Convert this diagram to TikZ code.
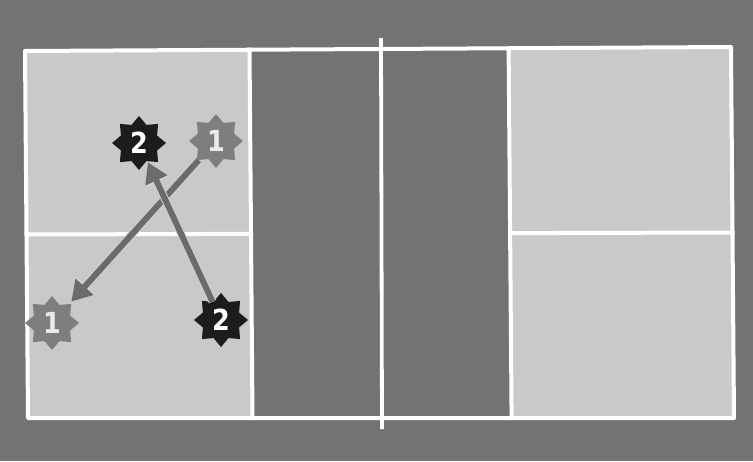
\documentclass[tikz,border=0pt]{standalone}
\usepackage{fontspec}
\usetikzlibrary{shapes.geometric,arrows.meta,calc}
\newfontfamily\playerfont[FakeStretch=0.88]{DejaVu Sans}

\definecolor{courtbg}{HTML}{737373}
\definecolor{courtlight}{HTML}{C9C9C9}
\definecolor{movegray}{HTML}{6B6B6B}
\definecolor{playergray}{HTML}{7E7E7E}
\definecolor{playerdark}{HTML}{1C1C1C}

\tikzset{
  courtline/.style={draw=white,line width=4pt,line cap=rect},
  player/.style={shape=star,star points=8,star point ratio=1.38,inner sep=0pt,
    minimum size=54pt,font=\fontsize{29}{29}\playerfont\bfseries},
  playerone/.style={player,fill=playergray,text=white!92!black},
  playertwo/.style={player,fill=playerdark,text=white},
  move/.style={draw=movegray,line width=6pt,
    -{Triangle[length=20pt,width=23pt]},
    preaction={draw=white!82!black,line width=8pt,-{Triangle[length=22pt,width=26pt]}}},
}

\begin{document}
\begin{tikzpicture}[line join=round,x=1pt,y=-1pt]
  \useasboundingbox (0,0) rectangle (753,461);
  \fill[courtbg] (0,0) rectangle (753,461);

  % court corners
  \coordinate (tl) at (25,51);
  \coordinate (tr) at (731,47);
  \coordinate (bl) at (28,418);
  \coordinate (br) at (734,418);
  % kitchen and net
  \coordinate (kat) at ($(tl)!0.318!(tr)$);
  \coordinate (kab) at ($(bl)!0.318!(br)$);
  \coordinate (kbt) at ($(tl)!0.685!(tr)$);
  \coordinate (kbb) at ($(bl)!0.685!(br)$);
  \coordinate (nt) at (381,38);
  \coordinate (nb) at (382,429);
  % center lines
  \coordinate (cal) at ($(tl)!0.5!(bl)$);
  \coordinate (car) at ($(kat)!0.5!(kab)$);
  \coordinate (cbl) at ($(kbt)!0.5!(kbb)$);
  \coordinate (cbr) at ($(tr)!0.5!(br)$);

  \fill[courtlight] (tl) -- (kat) -- (kab) -- (bl) -- cycle;
  \fill[courtlight] (kbt) -- (tr) -- (br) -- (kbb) -- cycle;

  \draw[courtline] (tl) -- (tr) -- (br) -- (bl) -- cycle;
  \draw[courtline] (kat) -- (kab);
  \draw[courtline] (kbt) -- (kbb);
  \draw[courtline] (cal) -- (car);
  \draw[courtline] (cbl) -- (cbr);
  \draw[courtline,line width=3.8pt,line cap=butt] (nt) -- (nb);

  % players
  \node[playertwo] (p2a) at (139,143) {2};
  \node[playerone] (p1a) at (216,141) {1};
  \node[playerone] (p1b) at (52,323) {1};
  \node[playertwo] (p2b) at (221,320) {2};

  % moves
  \draw[move,shorten >=3pt] (p1a) -- (p1b);
  \draw[move,shorten >=1pt] (p2b) -- (p2a);
\end{tikzpicture}
\end{document}
